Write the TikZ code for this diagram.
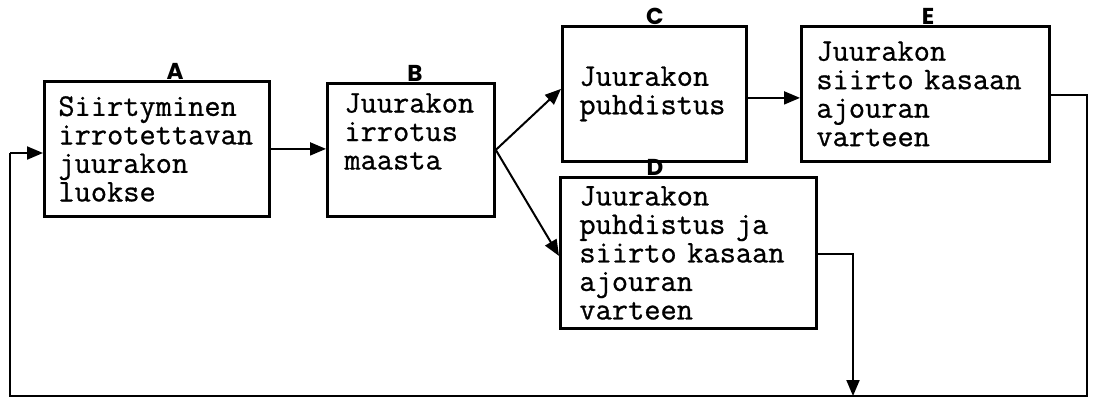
\documentclass[tikz,border=0pt]{standalone}
\usepackage{fontspec}
\usetikzlibrary{arrows.meta,calc}
\newfontfamily\labelfont{Poppins}
\newfontfamily\typefont{Latin Modern Mono}[FakeBold=0.8]
\begin{document}
\begin{tikzpicture}[x=1pt,y=-1pt,
  box/.style={draw,line width=2.8pt,anchor=north west,align=left,
    inner ysep=0pt,font=\typefont\fontsize{31.5}{28.5}\selectfont},
  conn/.style={line width=2pt},
  arr/.style={conn,-{Triangle[length=16pt,width=13pt]}},
  tag/.style={anchor=base,inner sep=0pt,font=\labelfont\bfseries\fontsize{23}{23}\selectfont}]
  \useasboundingbox (0,0) rectangle (1094,400);

  % process steps
  \node[box,minimum width=225pt,minimum height=135pt,inner xsep=14pt,text width=197pt]
    (A) at (43,80) {Siirtyminen\\irrotettavan\\juurakon\\luokse};
  \node[box,minimum width=167pt,minimum height=133pt,inner xsep=17pt,text width=133pt]
    (B) at (326,82) {Juurakon\\irrotus\\maasta\\\strut};
  \node[box,minimum width=184pt,minimum height=135pt,inner xsep=17pt,text width=150pt]
    (C) at (561,25) {Juurakon\\puhdistus};
  \node[box,minimum width=256pt,minimum height=151pt,inner xsep=19pt,text width=218pt]
    (D) at (559,176) {Juurakon\\puhdistus ja\\siirto kasaan\\ajouran\\varteen};
  \node[box,minimum width=248pt,minimum height=135pt,inner xsep=15pt,text width=218pt]
    (E) at (800,25) {Juurakon\\siirto kasaan\\ajouran\\varteen};

  % step letters
  \node[tag] (tA) at (175,79) {A};
  \node[tag] (tB) at (415,81) {B};
  \node[tag] (tC) at (655,24) {C};
  \node[tag] (tD) at (655,175) {D};
  \node[tag] (tE) at (928,24) {E};

  % return loop corners
  \coordinate (eR) at (1087,95);
  \coordinate (bR) at (1087,396);
  \coordinate (bL) at (10,396);
  \coordinate (aL) at (10,153);
  \coordinate (dR) at (853,254);
  \coordinate (dB) at (853,396);

  % connectors
  \draw[arr] (A.east) -- (A.east -| B.west);
  \draw[arr] (B.east) -- ([yshift=5pt]C.west);
  \draw[arr] (B.east) -- ([yshift=-3pt]D.west);
  \draw[arr] ([yshift=-4pt]C.east) -- ([yshift=-4pt]C.east -| E.west);
  \draw[conn] (E.east |- eR) -- (eR) -- (bR) -- (bL) -- (aL);
  \draw[arr] (aL) -- (aL -| A.west);
  \draw[arr] (D.east |- dR) -- (dR) -- (dB);
\end{tikzpicture}
\end{document}
